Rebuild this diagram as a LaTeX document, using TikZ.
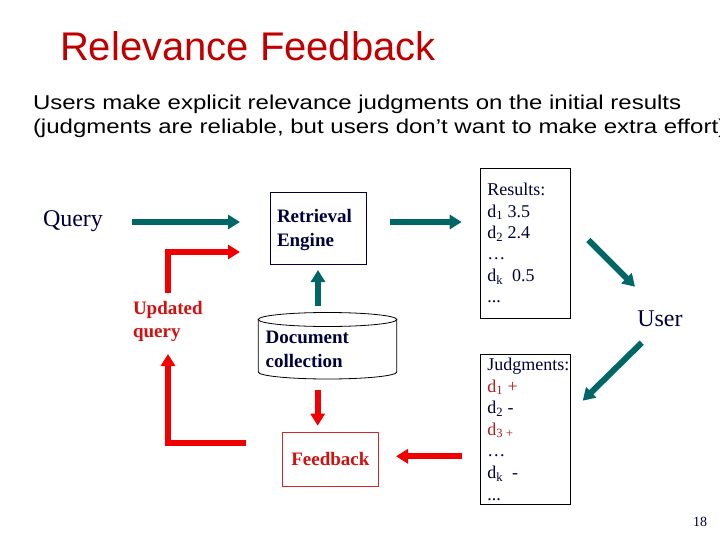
\documentclass[tikz,border=0pt]{standalone}
\usepackage{fontspec}
\setmainfont{Liberation Serif}
\newfontfamily\arialf{Liberation Sans}
\newfontfamily\arialwide[FakeStretch=1.2]{Liberation Sans}
\usetikzlibrary{arrows.meta}
\definecolor{tealc}{RGB}{0,102,102}
\definecolor{arrred}{RGB}{240,0,0}
\definecolor{txtred}{RGB}{210,16,16}
\definecolor{jred}{RGB}{180,30,30}
\definecolor{navy}{RGB}{0,0,60}
\definecolor{titlered}{RGB}{192,0,0}
\definecolor{boxred}{RGB}{210,40,40}
\begin{document}
\begin{tikzpicture}[x=1pt,y=-1pt,
  tealarrow/.style={draw=tealc,line width=6pt,-{Triangle[length=12pt,width=14pt]}},
  redarrow/.style={draw=arrred,line width=6pt,line join=miter,-{Triangle[length=12pt,width=14pt]}},
  txt/.style={inner sep=0pt,outer sep=0pt,anchor=base west},
  box/.style={draw,line width=0.8pt,inner sep=0pt,outer sep=0pt,anchor=north west},
  serif18/.style={font=\fontsize{18}{21.5}\selectfont},
  bold19/.style={font=\fontsize{19}{23.5}\selectfont\bfseries}]
\clip (0,0) rectangle (720,540);
\fill[white] (0,0) rectangle (720,540);

% title and subtitle
\node[txt,text=titlered,font=\arialf\fontsize{40}{48}\selectfont] (title) at (60,61) {Relevance Feedback};
\node[txt,font=\arialwide\fontsize{20}{24}\selectfont] (sub1) at (33,110) {Users make explicit relevance judgments on the initial results};
\node[txt,font=\arialwide\fontsize{20}{24}\selectfont] (sub2) at (33,134) {(judgments are reliable, but users don’t want to make extra effort)};

% query
\node[txt,text=navy,font=\fontsize{24}{28}\selectfont] (query) at (43,226) {Query};

% retrieval engine
\node[box,draw=navy,minimum width=96.7pt,minimum height=72pt] (engine) at (270,192.3) {};
\node[txt,text=navy,bold19] (enginetxt) at (277,222.7) {\vtop{\baselineskip=23.5pt\hbox{Retrieval}\hbox{Engine}}};

% updated query
\node[txt,text=txtred,bold19] (updq) at (133,314.3) {\vtop{\baselineskip=23pt\hbox{Updated}\hbox{query}}};

% document collection cylinder
\draw[line width=0.8pt,fill=white] (258.3,319.5) -- (258.3,372) arc[start angle=180,end angle=0,x radius=69.2,y radius=7] -- (396.7,319.5);
\draw[line width=0.8pt] (327.5,319.5) ellipse[x radius=69.2,y radius=7];
\node[txt,text=navy,bold19] (doc) at (265.7,343.3) {\vtop{\baselineskip=24pt\hbox{Document}\hbox{collection}}};

% feedback
\node[box,draw=boxred,minimum width=96.2pt,minimum height=53.5pt,text=txtred,font=\fontsize{19}{23}\selectfont\bfseries] (feedback) at (282.3,432.5) {Feedback};

% results
\node[box,minimum width=90.7pt,minimum height=150pt] (results) at (480,168.3) {};
\node[txt,text=navy,serif18] (resultstxt) at (487.3,195.7) {\vtop{\baselineskip=21.4pt
  \hbox{Results:}
  \hbox{d\textsubscript{1} 3.5}
  \hbox{d\textsubscript{2} 2.4}
  \hbox{…}
  \hbox{d\textsubscript{k}\ \ 0.5}
  \hbox{...}}};

% judgments
\node[box,minimum width=89.6pt,minimum height=149.7pt] (judg) at (480.7,354.3) {};
\node[txt,text=navy,serif18] (judgtxt) at (487.3,370.7) {\vtop{\baselineskip=21.55pt
  \hbox{Judgments:}
  \hbox{\color{jred}d\textsubscript{1} +}
  \hbox{d\textsubscript{2} -}
  \hbox{\color{jred}d\textsubscript{3 +}}
  \hbox{…}
  \hbox{d\textsubscript{k}\ \ -}
  \hbox{...}}};

% user
\node[txt,text=navy,font=\fontsize{24}{28}\selectfont] (user) at (637.3,326.7) {User};

% page number
\node[txt,text=navy,font=\fontsize{14}{16}\selectfont] (pagenum) at (693,526.7) {18};

% connector end points
\coordinate (qa) at (132,222);   \coordinate (qb) at (240,222);
\coordinate (ea) at (390,222);   \coordinate (eb) at (461.7,222);
\coordinate (ra) at (588.3,240); \coordinate (rb) at (635,286.7);
\coordinate (ua) at (641.7,342.7); \coordinate (ub) at (582.7,400.7);
\coordinate (ja) at (461.7,456.3); \coordinate (jb) at (396,456.3);
\coordinate (fa) at (246,443); \coordinate (fc) at (168,443); \coordinate (fb) at (168,354);
\coordinate (uqa) at (168,293); \coordinate (uqc) at (168,252); \coordinate (uqb) at (240,252);
\coordinate (da) at (318,306); \coordinate (db) at (318,270);
\coordinate (dfa) at (317.7,390); \coordinate (dfb) at (317.7,425.7);

% connectors
\draw[tealarrow] (qa) -- (qb);
\draw[tealarrow] (ea) -- (eb);
\draw[tealarrow] (ra) -- (rb);
\draw[tealarrow] (ua) -- (ub);
\draw[tealarrow] (da) -- (db);
\draw[redarrow] (ja) -- (jb);
\draw[redarrow] (fa) -- (fc) -- (fb);
\draw[redarrow] (uqa) -- (uqc) -- (uqb);
\draw[redarrow] (dfa) -- (dfb);
\end{tikzpicture}
\end{document}
